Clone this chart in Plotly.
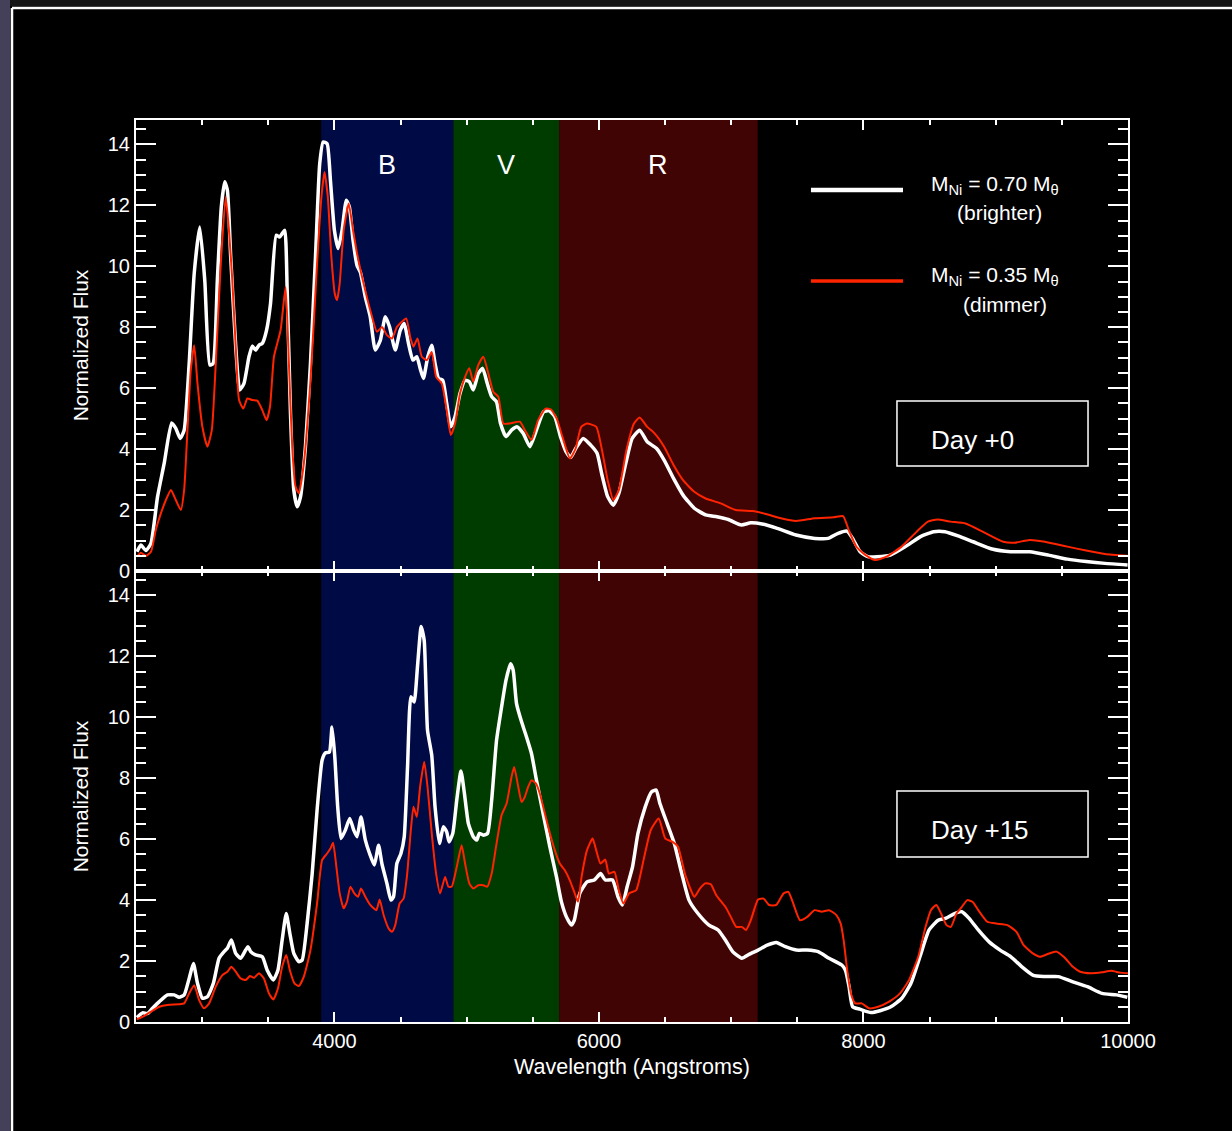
import plotly.graph_objects as go
from plotly.subplots import make_subplots

# ---------------- data ----------------
# Day +0, M_Ni = 0.70 (brighter, white)
day0_bright_wl = [2507,2537,2575,2613,2663,2713,2769,2801,2834,2864,2902,2940,2982,3020,3058,3083,3115,3145,3171,3191,
                  3216,3254,3284,3316,3354,3379,3404,3430,3455,3487,3517,3560,3585,3605,3625,3643,3668,3693,3719,3744,
                  3781,3819,3857,3889,3915,3945,3970,4000,4028,4058,4090,4113,4141,4171,4196,4234,4271,4309,4347,4385,
                  4417,4460,4498,4528,4560,4593,4623,4648,4673,4706,4736,4761,4787,4819,4849,4880,4912,4950,4988,5020,
                  5050,5088,5121,5156,5189,5226,5256,5297,5339,5382,5427,5478,5523,5581,5624,5667,5710,5752,5787,5824,
                  5881,5938,5986,6023,6066,6109,6151,6203,6251,6308,6365,6436,6493,6564,6636,6721,6807,6892,6978,7077,
                  7148,7234,7348,7490,7633,7733,7804,7875,7918,7975,8032,8103,8203,8317,8431,8530,8616,8716,8829,8972,
                  9114,9257,9399,9542,9684,9826,9997]
day0_bright_flux = [0.63,0.85,0.67,0.91,2.44,3.53,4.86,4.68,4.35,4.62,6.81,9.76,11.29,9.54,6.76,6.81,9.54,11.95,12.77,12.49,
                    10.31,7.36,5.94,6.15,7.03,7.38,7.25,7.41,7.47,7.90,8.78,11.02,10.96,11.07,11.18,9.21,5.17,2.66,2.11,2.44,
                    4.08,6.81,10.31,13.37,14.08,14.02,12.82,11.18,10.58,11.18,12.17,11.95,10.85,10.03,9.81,8.99,8.34,7.25,7.57,8.34,
                    8.01,7.25,7.90,8.12,7.47,6.92,7.03,6.65,6.32,7.03,7.41,6.81,6.32,6.26,5.50,4.73,5.06,5.83,6.26,6.21,
                    5.94,6.48,6.65,6.15,5.72,5.55,4.84,4.41,4.62,4.73,4.52,4.08,4.57,5.22,5.26,5.06,4.40,3.91,3.73,4.02,
                    4.35,4.13,3.86,3.15,2.44,2.16,2.55,3.53,4.35,4.62,4.24,4.02,3.64,3.04,2.49,2.06,1.84,1.78,1.69,1.51,
                    1.58,1.54,1.40,1.18,1.07,1.07,1.23,1.31,1.07,0.63,0.47,0.47,0.52,0.80,1.13,1.29,1.29,1.15,0.96,0.72,
                    0.63,0.63,0.52,0.39,0.31,0.25,0.20]

# Day +0, M_Ni = 0.35 (dimmer, red)
day0_dim_wl = [2507,2537,2575,2613,2650,2688,2726,2764,2801,2839,2864,2889,2914,2940,2965,3002,3040,3073,3103,3141,
               3178,3203,3228,3254,3279,3311,3342,3379,3417,3455,3487,3513,3543,3593,3631,3656,3681,3706,3731,3769,
               3819,3869,3902,3925,3950,3977,4003,4020,4040,4070,4108,4141,4171,4221,4271,4322,4360,4397,4435,4473,
               4510,4543,4573,4598,4628,4661,4699,4736,4769,4812,4849,4880,4912,4950,4988,5020,5050,5088,5126,5164,
               5201,5239,5277,5327,5402,5440,5490,5540,5596,5638,5681,5724,5781,5824,5866,5909,5980,6023,6066,6109,
               6151,6208,6265,6308,6365,6422,6493,6564,6636,6721,6807,6921,7035,7163,7262,7376,7490,7633,7775,7846,
               7889,7946,8017,8089,8174,8288,8402,8487,8559,8659,8772,8915,9057,9143,9257,9371,9542,9684,9826,9997]
day0_dim_flux = [0.47,0.60,0.49,0.63,1.35,1.89,2.33,2.66,2.33,2.00,2.66,4.62,6.59,7.41,6.15,4.73,4.08,4.62,6.81,10.09,
                 12.28,11.18,9.54,7.36,5.61,5.33,5.66,5.61,5.59,5.28,4.95,5.39,7.03,7.90,9.32,6.81,4.08,2.77,2.55,3.53,
                 6.26,10.09,12.28,13.09,12.28,10.31,9.10,8.89,9.43,11.18,12.06,11.18,10.42,9.43,8.56,7.85,8.01,7.74,7.63,8.01,
                 8.18,8.29,7.68,7.36,7.63,7.03,6.92,7.19,6.37,6.15,5.28,4.46,4.84,5.83,6.37,6.65,6.21,6.76,7.03,6.48,
                 5.88,5.72,4.84,4.84,4.90,4.62,4.30,4.95,5.33,5.30,5.00,4.40,3.69,4.02,4.73,4.84,4.73,3.97,2.98,2.33,
                 2.66,3.97,4.84,5.04,4.73,4.51,4.08,3.48,2.98,2.60,2.38,2.22,2.00,1.97,1.87,1.73,1.64,1.73,1.76,1.80,
                 1.34,0.80,0.52,0.36,0.47,0.80,1.29,1.62,1.69,1.62,1.56,1.26,0.96,0.93,1.02,0.96,0.80,0.67,0.56,0.50]

# Day +15, M_Ni = 0.70 (brighter, white)
day15_bright_wl = [2507,2550,2588,2625,2676,2738,2789,2826,2864,2902,2934,2965,3002,3040,3085,3128,3166,3191,3221,3254,
                   3291,3329,3347,3367,3404,3455,3492,3538,3573,3605,3636,3663,3693,3731,3756,3794,3832,3869,3907,3932,
                   3962,3982,4003,4025,4050,4083,4116,4146,4171,4201,4234,4266,4302,4334,4359,4397,4427,4447,4472,4503,
                   4528,4553,4578,4603,4628,4656,4679,4704,4736,4761,4794,4824,4849,4867,4895,4925,4957,4983,5013,5050,
                   5076,5096,5126,5158,5189,5226,5264,5297,5332,5352,5377,5415,5452,5490,5528,5578,5629,5679,5716,5754,
                   5792,5814,5855,5910,5965,6012,6048,6103,6144,6177,6213,6254,6295,6350,6397,6433,6461,6516,6570,6626,
                   6681,6749,6832,6901,6956,7011,7080,7135,7203,7272,7341,7410,7492,7575,7657,7740,7836,7864,7891,7918,
                   7973,8056,8125,8207,8290,8359,8427,8496,8565,8620,8689,8744,8799,8868,8950,9033,9115,9198,9280,9363,
                   9473,9583,9693,9803,9913,9995]
day15_bright_flux = [0.15,0.30,0.28,0.45,0.67,0.89,0.89,0.81,0.89,1.43,1.92,1.27,0.78,0.83,1.27,2.09,2.31,2.42,2.69,2.25,
                     2.09,2.36,2.47,2.31,2.20,2.14,1.70,1.38,1.70,2.69,3.56,2.91,2.25,1.98,2.03,3.24,4.87,6.95,8.59,8.83,
                     8.86,9.68,8.70,7.06,6.02,6.30,6.68,6.30,6.08,6.73,5.97,5.53,5.15,5.80,5.20,4.55,4.00,4.11,5.20,5.53,
                     6.08,8.37,10.67,10.50,11.65,12.98,12.52,9.57,8.75,7.06,5.86,6.41,6.24,5.91,6.19,7.28,8.24,7.50,6.51,6.08,
                     5.97,6.19,6.13,6.19,7.28,9.25,10.34,11.21,11.76,11.54,10.45,9.85,9.36,8.81,7.93,6.84,5.75,4.76,3.95,3.45,
                     3.18,3.34,4.22,4.60,4.66,4.87,4.66,4.66,4.11,3.84,4.44,5.09,6.19,7.06,7.55,7.61,7.17,6.51,5.86,4.87,
                     4.00,3.56,3.18,3.02,2.69,2.31,2.09,2.22,2.36,2.52,2.61,2.47,2.36,2.36,2.31,2.09,1.87,1.70,1.16,0.50,
                     0.42,0.31,0.37,0.50,0.78,1.27,2.14,3.02,3.34,3.40,3.56,3.62,3.40,3.02,2.63,2.36,2.14,1.81,1.54,1.49,
                     1.49,1.32,1.16,0.94,0.89,0.81]

# Day +15, M_Ni = 0.35 (dimmer, red)
day15_dim_wl = [2507,2563,2613,2676,2738,2826,2864,2902,2940,2977,3015,3053,3103,3153,3191,3221,3254,3291,3329,3362,
                3392,3430,3467,3505,3538,3573,3605,3636,3663,3698,3731,3769,3819,3869,3907,3945,3970,3990,4015,4040,
                4070,4095,4121,4151,4179,4201,4234,4271,4317,4342,4372,4410,4435,4460,4493,4523,4548,4578,4598,4623,
                4648,4679,4704,4736,4769,4799,4837,4862,4887,4925,4962,4988,5020,5050,5088,5126,5156,5189,5226,5264,
                5302,5339,5359,5390,5415,5440,5465,5490,5523,5553,5591,5629,5666,5704,5742,5780,5817,5842,5869,5910,
                5952,5979,6012,6048,6075,6117,6150,6185,6227,6282,6337,6392,6452,6502,6557,6598,6653,6722,6763,6804,
                6846,6887,6956,6997,7038,7080,7112,7148,7203,7245,7286,7341,7396,7432,7465,7520,7575,7630,7685,7740,
                7795,7828,7850,7877,7905,7938,7987,8042,8111,8194,8276,8345,8414,8469,8510,8551,8587,8628,8661,8703,
                8744,8785,8826,8868,8936,9005,9088,9157,9211,9280,9335,9404,9459,9514,9583,9638,9720,9803,9872,9941,
                10000]
day15_dim_flux = [0.09,0.20,0.34,0.50,0.56,0.58,0.61,0.94,1.21,0.72,0.45,0.61,1.16,1.54,1.65,1.81,1.65,1.43,1.38,1.51,
                  1.45,1.60,1.43,0.94,0.74,1.10,1.81,2.20,1.70,1.27,1.18,1.49,2.36,3.89,5.31,5.53,5.69,5.88,5.09,4.22,
                  3.73,3.95,4.44,4.22,4.11,4.38,4.11,3.84,3.67,4.02,3.51,3.07,2.96,3.18,3.89,4.05,4.76,6.30,7.06,6.73,
                  7.72,8.54,7.72,6.19,4.87,4.22,4.76,4.44,4.44,5.09,5.80,5.20,4.55,4.38,4.49,4.49,4.44,4.87,5.86,6.79,
                  7.17,8.04,8.37,7.72,7.22,7.39,7.72,7.93,7.83,7.50,6.84,6.19,5.64,5.20,4.98,4.65,4.22,3.95,4.77,5.64,
                  6.02,5.64,5.20,5.33,4.87,4.93,4.33,3.89,4.22,4.33,5.31,6.30,6.68,6.02,5.91,5.75,4.82,4.11,4.38,4.55,
                  4.52,4.16,3.78,3.45,3.12,3.12,3.02,3.34,4.02,4.05,3.84,3.84,4.22,4.27,3.94,3.34,3.45,3.67,3.62,3.67,
                  3.51,3.23,2.69,1.70,0.94,0.61,0.61,0.45,0.50,0.67,0.94,1.38,2.14,3.12,3.67,3.84,3.56,3.18,3.12,3.56,
                  3.78,4.00,3.94,3.67,3.29,3.23,3.18,2.96,2.52,2.25,2.14,2.25,2.31,2.14,1.81,1.65,1.60,1.63,1.68,1.62,
                  1.60]

# photometric bands
band_names = ["B", "V", "R"]
band_edges = [(3900, 4900), (4900, 5700), (5700, 7200)]
band_colors = ["#000a44", "#003c00", "#400404"]

x_range = [2500, 10000]
y_range = [0, 14.8]
legend_labels = ["M<sub>Ni</sub> = 0.70 M<sub>\u03b8</sub>", "M<sub>Ni</sub> = 0.35 M<sub>\u03b8</sub>"]
legend_notes = ["(brighter)", "(dimmer)"]
day_labels = ["Day +0", "Day +15"]

WHITE = "#ffffff"
RED = "#ff2400"
FONT = "Liberation Sans, Arial, Helvetica, sans-serif"

# ---------------- figure ----------------
fig = make_subplots(rows=2, cols=1, shared_xaxes=True, vertical_spacing=0)

for row, (wb, fb, wd, fd) in enumerate([(day0_bright_wl, day0_bright_flux, day0_dim_wl, day0_dim_flux),
                                         (day15_bright_wl, day15_bright_flux, day15_dim_wl, day15_dim_flux)], start=1):
    fig.add_trace(go.Scatter(x=wb, y=fb, mode="lines", line=dict(color=WHITE, width=3.5, shape="spline", smoothing=0.5),
                             showlegend=False, hoverinfo="skip"), row=row, col=1)
    fig.add_trace(go.Scatter(x=wd, y=fd, mode="lines", line=dict(color=RED, width=2, shape="spline", smoothing=0.5),
                             showlegend=False, hoverinfo="skip"), row=row, col=1)

# colored bands spanning both panels
for (x0, x1), col in zip(band_edges, band_colors):
    fig.add_shape(type="rect", xref="x", yref="paper", x0=x0, x1=x1, y0=0, y1=1,
                  fillcolor=col, line=dict(width=0), layer="below")
for name, (x0, x1) in zip(band_names, band_edges):
    fig.add_annotation(x=(x0 + x1) / 2, xref="x", y=0.950, yref="paper", yanchor="middle", text=name,
                       showarrow=False, font=dict(color=WHITE, size=27, family=FONT))

axis_common = dict(showline=True, linecolor=WHITE, linewidth=2, mirror="allticks", ticks="inside",
                   tickcolor=WHITE, tickwidth=2, showgrid=False, zeroline=False,
                   tickfont=dict(color=WHITE, size=20, family=FONT))

for r in (1, 2):
    fig.update_xaxes(range=x_range, tick0=0, dtick=2000, ticklen=10, tickformat="d",
                     minor=dict(dtick=500, ticklen=5, tickcolor=WHITE, tickwidth=1.5, ticks="inside"),
                     row=r, col=1, **axis_common)
    fig.update_yaxes(range=y_range, tick0=0, dtick=2, ticklen=20,
                     minor=dict(dtick=0.5, ticklen=10, tickcolor=WHITE, tickwidth=1.5, ticks="inside"),
                     title=dict(text="Normalized Flux", font=dict(color=WHITE, size=21, family=FONT), standoff=13),
                     row=r, col=1, **axis_common)

fig.update_xaxes(title=dict(text="Wavelength (Angstroms)", font=dict(color=WHITE, size=21.5, family=FONT), standoff=8),
                 row=2, col=1)

# legend (drawn manually)
for yl, col, w, lab, note, yt, yn, xn in [(0.9224, WHITE, 4.5, legend_labels[0], legend_notes[0], 0.9279, 0.8969, 0.870),
                                           (0.8215, RED, 3.5, legend_labels[1], legend_notes[1], 0.8270, 0.7960, 0.876)]:
    fig.add_shape(type="line", xref="paper", yref="paper", x0=0.6804, x1=0.7732, y0=yl, y1=yl,
                  line=dict(color=col, width=w))
    fig.add_annotation(x=0.7990, y=yt, xref="paper", yref="paper", text=lab, showarrow=False,
                       xanchor="left", yanchor="middle", font=dict(color=WHITE, size=21, family=FONT))
    fig.add_annotation(x=xn, y=yn, xref="paper", yref="paper", text=note, showarrow=False,
                       xanchor="center", yanchor="middle", font=dict(color=WHITE, size=21, family=FONT))

# day boxes
for lab, y0, y1, yt in [(day_labels[0], 0.6164, 0.6885, 0.6452), (day_labels[1], 0.1829, 0.2561, 0.2129)]:
    fig.add_shape(type="rect", xref="paper", yref="paper", x0=0.7671, x1=0.9597, y0=y0, y1=y1,
                  line=dict(color=WHITE, width=1.5), fillcolor="rgba(0,0,0,0)")
    fig.add_annotation(x=0.7990, y=yt, xref="paper", yref="paper", text=lab, showarrow=False,
                       xanchor="left", yanchor="middle", font=dict(color=WHITE, size=26, family=FONT))

# outer decoration: left strip, top strip, white frame
fig.add_shape(type="rect", xref="paper", yref="paper", x0=-0.1372, x1=-0.1270, y0=-0.13, y1=1.14,
              fillcolor="#45405a", line=dict(width=0), layer="below")
fig.add_shape(type="rect", xref="paper", yref="paper", x0=-0.1270, x1=1.11, y0=1.1264, y1=1.14,
              fillcolor="#161616", line=dict(width=0), layer="below")
fig.add_shape(type="line", xref="paper", yref="paper", x0=-0.1250, x1=-0.1250, y0=-0.13, y1=1.1242,
              line=dict(color=WHITE, width=2.5))
fig.add_shape(type="line", xref="paper", yref="paper", x0=-0.1250, x1=1.11, y0=1.1242, y1=1.1242,
              line=dict(color=WHITE, width=2.5))

fig.update_layout(width=1232, height=1131, margin=dict(l=136, r=104, t=120, b=109, pad=0),
                  paper_bgcolor="black", plot_bgcolor="black", showlegend=False,
                  font=dict(color=WHITE, family=FONT))

fig.write_html("out.html")
